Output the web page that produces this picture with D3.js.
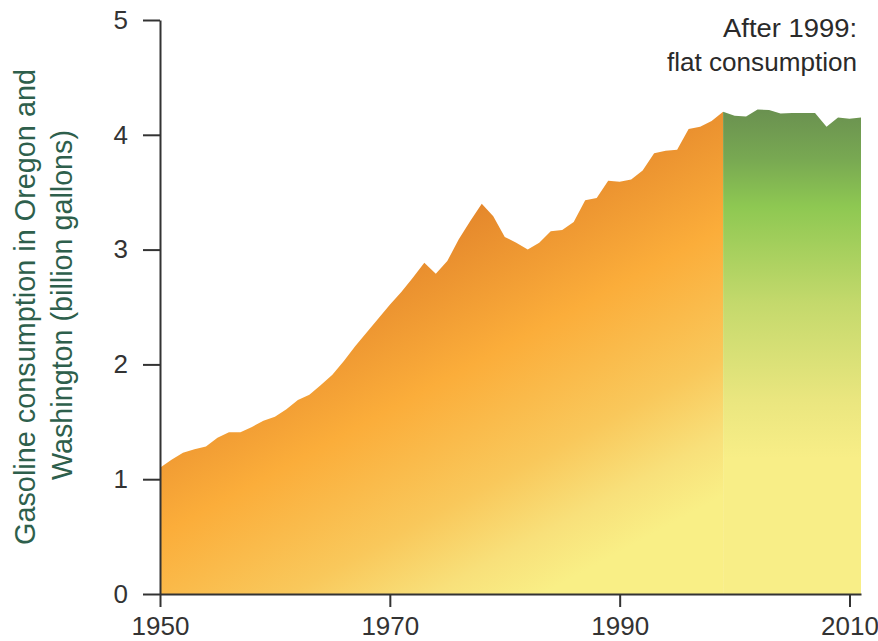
<!DOCTYPE html>
<html>
<head>
<meta charset="utf-8">
<script src="https://cdn.jsdelivr.net/npm/d3@7"></script>
<style>
  html, body { margin: 0; padding: 0; background: #fff; }
  svg { display: block; }
  text { font-family: "Liberation Sans", Arial, sans-serif; }
</style>
</head>
<body>
<svg id="chart" width="878" height="641"></svg>
<script>
// ---- data ----
const years = d3.range(1950, 2012);
const consumption = [
  1.10, 1.17, 1.23, 1.26, 1.285, 1.36, 1.41, 1.41, 1.455, 1.51,
  1.545, 1.61, 1.69, 1.735, 1.82, 1.91, 2.03, 2.16, 2.28, 2.40,
  2.52, 2.63, 2.755, 2.885, 2.79, 2.90, 3.09, 3.25, 3.40, 3.29,
  3.11, 3.06, 3.00, 3.06, 3.16, 3.17, 3.24, 3.43, 3.45, 3.60,
  3.59, 3.61, 3.69, 3.84, 3.86, 3.87, 4.05, 4.07, 4.12, 4.20,
  4.165, 4.16, 4.22, 4.215, 4.185, 4.19, 4.19, 4.19, 4.07, 4.15,
  4.14, 4.15
];
const splitYear = 1999;
const xTicks = [1950, 1970, 1990, 2010];
const yTicks = [0, 1, 2, 3, 4, 5];
const yTitle = ["Gasoline consumption in Oregon and", "Washington (billion gallons)"];
const note = ["After 1999:", "flat consumption"];

const data = years.map((y, i) => ({ year: y, value: consumption[i] }));

// ---- layout ----
const svg = d3.select("#chart");
const x = d3.scaleLinear().domain([1950, 2011]).range([160, 861]);
const y = d3.scaleLinear().domain([0, 5]).range([594, 20]);

const defs = svg.append("defs");
const og = defs.append("linearGradient").attr("id", "orangeGrad")
  .attr("gradientUnits", "userSpaceOnUse")
  .attr("x1", 192).attr("y1", 352).attr("x2", 374).attr("y2", 686);
[[0, "#e3852b"], [0.38, "#fbad3a"], [0.68, "#f9c85b"], [0.86, "#f8e07a"], [1, "#f9ef86"]]
  .forEach(([o, c]) => og.append("stop").attr("offset", o).attr("stop-color", c));

const gg = defs.append("linearGradient").attr("id", "greenGrad")
  .attr("gradientUnits", "userSpaceOnUse")
  .attr("x1", 0).attr("y1", 110).attr("x2", 0).attr("y2", 594);
[[0, "#6a9150"], [0.1, "#78a852"], [0.2, "#8ec852"], [0.4, "#c4d96c"], [0.6, "#eae67f"], [0.72, "#f8ee87"], [1, "#f8ee87"]]
  .forEach(([o, c]) => gg.append("stop").attr("offset", o).attr("stop-color", c));

const area = d3.area()
  .x(d => x(d.year))
  .y0(y(0))
  .y1(d => y(d.value));

svg.append("path")
  .datum(data.filter(d => d.year <= splitYear))
  .attr("d", area)
  .attr("fill", "url(#orangeGrad)");

svg.append("path")
  .datum(data.filter(d => d.year >= splitYear))
  .attr("d", area)
  .attr("fill", "url(#greenGrad)");

// ---- axes ----
const axisColor = "#333";
const yAxis = svg.append("g")
  .attr("transform", `translate(${x(1950)},0)`)
  .call(d3.axisLeft(y).tickValues(yTicks).tickFormat(d3.format("d"))
    .tickSize(17).tickSizeOuter(0).tickPadding(15));
const xAxis = svg.append("g")
  .attr("transform", `translate(0,${y(0)})`)
  .call(d3.axisBottom(x).tickValues(xTicks).tickFormat(d3.format("d"))
    .tickSize(13).tickSizeOuter(0).tickPadding(10));

[yAxis, xAxis].forEach(g => {
  g.select(".domain").attr("stroke", axisColor).attr("stroke-width", 2);
  g.selectAll(".tick line").attr("stroke", axisColor).attr("stroke-width", 2);
  g.selectAll(".tick text").attr("fill", "#333")
    .style("font-size", "26px")
    .style("font-family", "'Liberation Sans', Arial, sans-serif");
});

// ---- y title ----
const titleG = svg.append("g").attr("fill", "#2e5f4c");
titleG.append("text")
  .attr("transform", "translate(35,307) rotate(-90)")
  .attr("text-anchor", "middle")
  .attr("textLength", 476).attr("lengthAdjust", "spacingAndGlyphs")
  .style("font-size", "29px")
  .text(yTitle[0]);
titleG.append("text")
  .attr("transform", "translate(72,305) rotate(-90)")
  .attr("text-anchor", "middle")
  .attr("textLength", 350).attr("lengthAdjust", "spacingAndGlyphs")
  .style("font-size", "29px")
  .text(yTitle[1]);

// ---- annotation ----
svg.append("text")
  .attr("x", 857).attr("y", 37).attr("text-anchor", "end")
  .attr("textLength", 134).attr("lengthAdjust", "spacingAndGlyphs")
  .attr("fill", "#2a2a2a").style("font-size", "26px")
  .text(note[0]);
svg.append("text")
  .attr("x", 857).attr("y", 71).attr("text-anchor", "end")
  .attr("textLength", 190).attr("lengthAdjust", "spacingAndGlyphs")
  .attr("fill", "#2a2a2a").style("font-size", "26px")
  .text(note[1]);
</script>
</body>
</html>
